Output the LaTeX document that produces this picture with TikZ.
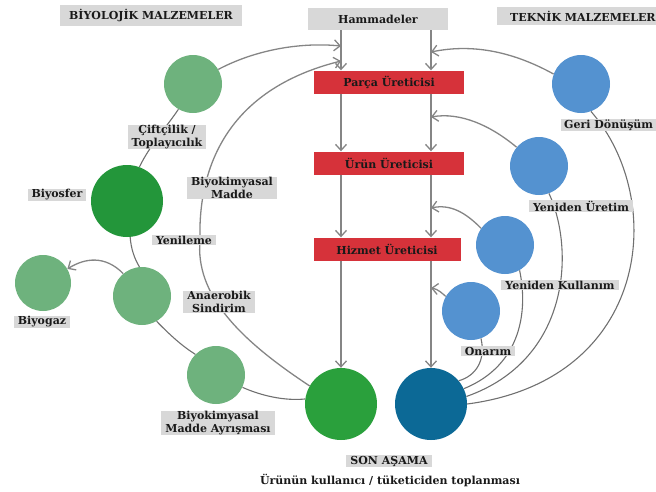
\documentclass[tikz,border=0pt]{standalone}
\usepackage{fontspec}
\setmainfont{DejaVu Serif}
\usetikzlibrary{arrows.meta}
\definecolor{lgreen}{HTML}{6EB27D}
\definecolor{dgreen}{HTML}{23963A}
\definecolor{sgreen}{HTML}{2AA03C}
\definecolor{lblue}{HTML}{5492D0}
\definecolor{dblue}{HTML}{0C6996}
\definecolor{prodred}{HTML}{D6323A}
\definecolor{boxgray}{HTML}{D8D8D8}
\definecolor{linegray}{HTML}{707070}
\newcommand{\lblfont}{\fontsize{11}{12.5}\selectfont\bfseries}
\tikzset{
  circ/.style={circle, minimum size=#1, inner sep=0pt},
  gbox/.style={fill=boxgray, font=\lblfont, inner xsep=4pt, inner ysep=0.8pt, align=center, text=black!90},
  pbox/.style={fill=prodred, font=\lblfont, minimum width=150pt, minimum height=23pt, text=black!90},
  link/.style={draw=linegray, line width=1.1pt},
  flow/.style={draw=linegray!85, line width=1.3pt, -{Straight Barb[length=6pt,width=11pt]}}
}
\begin{document}
\begin{tikzpicture}[x=1pt,y=-1pt]
    \useasboundingbox (0,0) rectangle (656,491);

    \node[circ=58pt, fill=lgreen] (cift) at (193,84) {};
    \node[circ=72pt, fill=dgreen] (biyo) at (127,201) {};
    \node[circ=56pt, fill=lgreen] (gaz)  at (43,283) {};
    \node[circ=58pt, fill=lgreen] (anae) at (142,296) {};
    \node[circ=58pt, fill=lgreen] (ayr)  at (216,375) {};
    \node[circ=72pt, fill=sgreen] (sg)   at (341,404) {};
    \node[circ=72pt, fill=dblue]  (sb)   at (431,404) {};
    \node[circ=58pt, fill=lblue]  (geri) at (581,84) {};
    \node[circ=58pt, fill=lblue]  (yu)   at (539,166) {};
    \node[circ=58pt, fill=lblue]  (yk)   at (505,245) {};
    \node[circ=58pt, fill=lblue]  (on)   at (471,311) {};

    \node[gbox, minimum width=140pt, minimum height=22pt] (ham) at (378,19) {Hammadeler};
    \node[pbox] (parca)  at (389,82)  {Parça Üreticisi};
    \node[pbox] (urun)   at (389,163) {Ürün Üreticisi};
    \node[pbox, minimum width=147pt] (hizmet) at (387,249) {Hizmet Üreticisi};

    \coordinate (L) at (341,0);
    \coordinate (R) at (431,0);
    \coordinate (gL1) at (341,46);
    \coordinate (gL2) at (341,61);
    \coordinate (gR1) at (431,52);
    \coordinate (gR2) at (431,117);
    \coordinate (gR3) at (431,208);
    \coordinate (gR4) at (431,288);

    \foreach \c in {L,R} {
        \draw[flow] (ham.south -| \c) -- (parca.north -| \c);
        \draw[flow] (parca.south -| \c) -- (urun.north -| \c);
        \draw[flow] (urun.south -| \c) -- (hizmet.north -| \c);
    }
    \draw[flow] (hizmet.south -| sg) -- (sg.north);
    \draw[flow] (hizmet.south -| sb) -- (sb.north);

    \draw[flow] (cift.30) .. controls (255,50) and (300,42) .. (gL1);
    \draw[flow] (sg.150) .. controls (240,340) and (195,295) .. (200,240)
        .. controls (198,170) and (225,90) .. (gL2);
    \draw[link] (cift.-120) .. controls (168,125) and (150,145) .. (biyo.70);
    \draw[link] (biyo.-85) .. controls (131,248) and (134,258) .. (anae.95);
    \draw[flow] (anae.130) .. controls (105,255) and (85,258) .. (gaz.30);
    \draw[link] (anae.-60) .. controls (170,335) and (182,346) .. (ayr.135);
    \draw[link] (ayr.-25) .. controls (262,396) and (285,401) .. (sg.172);

    \draw[flow] (geri.160) .. controls (510,50) and (470,44) .. (gR1);
    \draw[flow] (yu.140) .. controls (490,125) and (460,112) .. (gR2);
    \draw[flow] (yk.145) .. controls (465,212) and (450,204) .. (gR3);
    \draw[flow] (on.150) .. controls (443,294) and (438,289) .. (gR4);
    \draw[link] (on.-70) .. controls (486,360) and (476,376) .. (sb.40);
    \draw[link] (yk.-60) .. controls (528,310) and (522,365) .. (sb.25);
    \draw[link] (yu.-70) .. controls (575,250) and (570,360) .. (sb.12);
    \draw[link] (geri.-70) .. controls (668,200) and (650,380) .. (sb.0);

    \node[gbox, minimum width=182pt, minimum height=21pt] (biolbl) at (151,15) {BİYOLOJİK MALZEMELER};
    \node[gbox, anchor=west, minimum height=18pt, inner xsep=13pt] (teklbl) at (497,16) {TEKNİK MALZEMELER};
    \node[gbox] (ciftlbl) at (167,137) {Çiftçilik /\\Toplayıcılık};
    \node[gbox] (biyolbl) at (57,195) {Biyosfer};
    \node[gbox] (madlbl) at (232,188) {Biyokimyasal\\Madde};
    \node[gbox] (yenlbl) at (184,240) {Yenileme};
    \node[gbox] (gazlbl) at (42,322) {Biyogaz};
    \node[gbox] (anaelbl) at (219,302) {Anaerobik\\Sindirim};
    \node[gbox] (ayrlbl) at (218,423) {Biyokimyasal\\Madde Ayrışması};
    \node[gbox, anchor=west, inner xsep=3pt] (gerilbl) at (561,125) {Geri Dönüşüm};
    \node[gbox] (yulbl) at (581,206) {Yeniden Üretim};
    \node[gbox] (yklbl) at (560,285) {Yeniden Kullanım};
    \node[gbox] (onlbl) at (488,351) {Onarım};
    \node[gbox] (sonlbl) at (389,461) {SON AŞAMA};
    \node[font=\lblfont, text=black!90] (toplbl) at (390,480) {Ürünün kullanıcı / tüketiciden toplanması};
\end{tikzpicture}
\end{document}
